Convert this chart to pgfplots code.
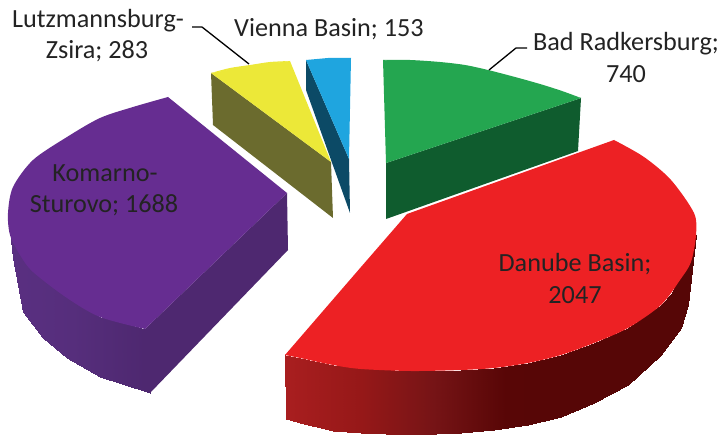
\documentclass[border=0pt]{standalone}
\usepackage{pgfplots}
\pgfplotsset{compat=1.18}
\usepackage{fontspec}
\setmainfont{Carlito}
\definecolor{redtop}{RGB}{237,33,36}
\definecolor{greentop}{RGB}{36,166,80}
\definecolor{greenwall}{RGB}{15,92,46}
\definecolor{purpletop}{RGB}{102,45,145}
\definecolor{purplewall}{RGB}{78,40,112}
\definecolor{yellowtop}{RGB}{236,232,56}
\definecolor{yellowwall}{RGB}{107,107,46}
\definecolor{bluetop}{RGB}{31,165,223}
\definecolor{bluewall}{RGB}{12,74,102}
\definecolor{txt}{RGB}{35,35,35}
\pgfplotsset{
  face/.style={fill=#1,draw=none,no markers,forget plot},
  arc/.style={fill=#1,draw=none,no markers,forget plot,smooth},
}
\tikzset{
  lab/.style={anchor=base,text=txt,font=\fontsize{26.2}{26.2}\selectfont,inner sep=0pt,outer sep=0pt},
}
\begin{document}
\begin{tikzpicture}
\begin{axis}[name=ax,
  scale only axis,width=722pt,height=435pt,
  xmin=0,xmax=722,ymin=0,ymax=435,y dir=reverse,
  point meta min=0,point meta max=722,
  hide axis,clip=true]
% Green
\addplot[face=greenwall] coordinates {(581,98)(578,151)(386,219)(386,163)};
\addplot[face=greentop] coordinates {(383,60)(470,70)(581,98)(386,163)};
\addplot[arc=greentop] coordinates {(383,60)(410,60)(440,62)(465,65)(488,70)(515,77)(540,84)(562,91)(581,98)};
% Blue
\addplot[face=bluewall] coordinates {(306,60)(306,90)(350,213)(349,159)};
\addplot[face=bluetop] coordinates {(306,60)(328,58)(351,58)(349,159)};
% Yellow
\addplot[face=yellowwall] coordinates {(211,73)(213,125)(333,218)(331,162)};
\addplot[face=yellowtop] coordinates {(211,73)(250,66)(290,61)(331,162)};
\addplot[arc=yellowtop] coordinates {(211,73)(230,68)(250,65)(270,62)(290,61)};
% Purple wall
\addplot[patch,patch type=rectangle,shader=interp,point meta=x,forget plot,
  colormap={pw}{rgb255=(90,48,130); rgb255=(86,46,124); rgb255=(78,40,112); rgb255=(78,40,112); rgb255=(78,40,112); rgb255=(78,40,112); rgb255=(78,40,112); rgb255=(78,40,112); rgb255=(78,40,112); rgb255=(78,40,112); rgb255=(78,40,112)}] table {
x y
8 213
20 255
23 312
13 258
20 255
33 272
43 338
23 312
33 272
67 298
67 358
43 338
67 298
100 317
100 377
67 358
100 317
145 329
150 393
100 377
};
\addplot[face=purplewall] coordinates {(287,193)(288,250)(150,393)(145,329)};
\addplot[face=purpletop] coordinates {(168,97)(287,193)(145,329)(60,220)};
\addplot[arc=purpletop] coordinates {(168,97)(133,107)(100,118)(67,137)(33,160)(13,187)(8,213)(10,235)(20,255)(33,272)(67,298)(100,317)(145,329)};
% Red wall
\addplot[patch,patch type=rectangle,shader=interp,point meta=x,forget plot,
  colormap={rw}{rgb255=(168,30,31); rgb255=(168,30,31); rgb255=(168,30,31); rgb255=(168,30,31); rgb255=(168,30,31); rgb255=(150,24,24); rgb255=(118,20,22); rgb255=(88,6,6); rgb255=(86,6,6); rgb255=(86,6,6); rgb255=(86,6,6)}] table {
x y
285 355
300 358
300 423
286 419
300 358
333 365
333 431
300 423
333 365
361 368
361 433
333 431
361 368
411 371
411 435
361 433
411 371
461 370
461 433
411 435
461 370
494 368
494 430
461 433
494 368
528 363
528 425
494 430
528 363
561 355
561 417
528 425
561 355
594 343
594 403
561 417
594 343
628 328
628 385
594 403
628 328
661 305
661 355
628 385
661 305
672 293
681 328
661 355
672 293
690 250
688 305
681 328
690 250
696 235
691 262
688 305
};
\addplot[face=redtop] coordinates {(614,140)(500,340)(285,355)(361,267)(407,214)};
\addplot[arc=redtop] coordinates {(285,355)(300,358)(333,365)(361,369)(411,371)(461,370)(494,368)(528,363)(561,355)(594,343)(628,328)(661,305)(680,280)(691,262)(696,235)(694,213)(671,180)(644,157)(614,140)};
% Leader lines
\addplot[black,line width=1.3pt,no markers,forget plot] coordinates {(192,27)(202,27)(249,64)};
\addplot[black,line width=1.3pt,no markers,forget plot] coordinates {(527,48)(516,48)(489,70)};
% Labels
\node[lab] at (axis cs:98,28) {Lutzmannsburg-};
\node[lab] at (axis cs:97,59) {Zsira; 283};
\node[lab] at (axis cs:329,37) {Vienna Basin; 153};
\node[lab] at (axis cs:626,51) {Bad Radkersburg;};
\node[lab] at (axis cs:626,83) {740};
\node[lab] at (axis cs:105,182) {Komarno-};
\node[lab] at (axis cs:104,213) {Sturovo; 1688};
\node[lab] at (axis cs:575,272) {Danube Basin;};
\node[lab] at (axis cs:575,303) {2047};
\end{axis}
\path (ax.south west) rectangle (ax.north east);
\end{tikzpicture}
\end{document}
